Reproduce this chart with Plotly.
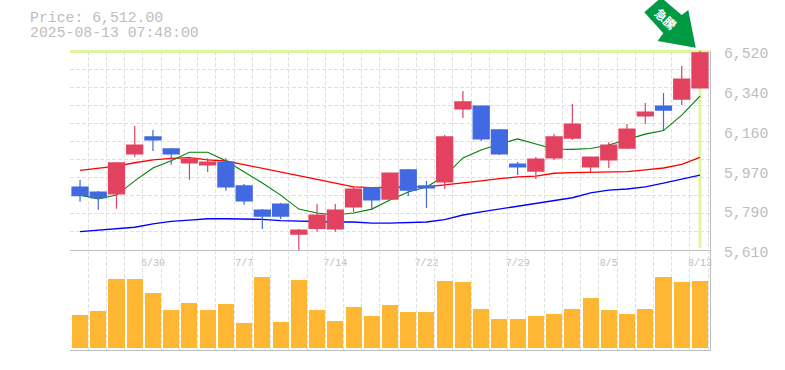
import numpy as np
import plotly.graph_objects as go

# --- data ---
date_labels = ["6/30", "7/7", "7/14", "7/22", "7/29", "8/5", "8/13"]
date_positions = [4, 9, 14, 19, 24, 29, 34]
index = list(range(35))

opens = [5898, 5875, 5867, 6049, 6127, 6072, 6008, 5999, 6012, 5903, 5793, 5820, 5683, 5709, 5706, 5807, 5895, 5843,
         5976, 5903, 5921, 6255, 6268, 6159, 6003, 5971, 6031, 6122, 5990, 6022, 6076, 6223, 6268, 6300, 6351]
highs = [5930, 5880, 6008, 6177, 6159, 6076, 6038, 6029, 6029, 5912, 5797, 5825, 5706, 5820, 5820, 5899, 5898, 5962,
         5980, 5926, 6136, 6337, 6268, 6163, 6012, 6035, 6140, 6278, 6035, 6104, 6186, 6282, 6328, 6451, 6520]
lows = [5831, 5794, 5799, 6035, 6063, 6000, 5931, 5967, 5881, 5817, 5706, 5752, 5610, 5694, 5694, 5784, 5793, 5843,
        5857, 5802, 5889, 6214, 6108, 6044, 5953, 5935, 6022, 6113, 5965, 5985, 6072, 6186, 6159, 6273, 6351]
closes = [5858, 5849, 6008, 6090, 6113, 6049, 6026, 6012, 5899, 5835, 5765, 5765, 5701, 5770, 5793, 5889, 5839, 5962,
          5884, 5894, 6127, 6287, 6118, 6049, 5990, 6026, 6127, 6186, 6035, 6090, 6163, 6241, 6250, 6392, 6512]
ma_short = [5861, 5843, 5861, 5926, 5985, 6018, 6057, 6057, 6018, 5968, 5916, 5861, 5797, 5779, 5770, 5779, 5797, 5839,
            5875, 5898, 5948, 6031, 6067, 6095, 6118, 6095, 6072, 6070, 6074, 6090, 6115, 6140, 6156, 6227, 6314]
ma_mid = [5974, 5985, 5994, 6009, 6022, 6029, 6032, 6022, 6017, 6000, 5984, 5965, 5950, 5933, 5916, 5899, 5895, 5898,
          5898, 5899, 5907, 5916, 5926, 5936, 5944, 5948, 5961, 5964, 5965, 5965, 5968, 5976, 5985, 6002, 6034]
ma_long = [5694, 5700, 5706, 5714, 5729, 5741, 5747, 5753, 5753, 5753, 5750, 5744, 5741, 5741, 5738, 5738, 5733, 5733,
           5736, 5738, 5749, 5770, 5784, 5797, 5811, 5825, 5839, 5849, 5871, 5884, 5889, 5899, 5916, 5933, 5952]
volume = [33, 37, 69, 69, 55, 38, 45, 38, 44, 25, 71, 26, 68, 38, 27, 41, 32, 43,
          36, 36, 67, 66, 39, 29, 29, 32, 34, 39, 50, 38, 34, 39, 71, 66, 67]
price_ticks = [5610, 5790, 5970, 6160, 6340, 6520]
price_tick_pos = [5610, 5792, 5974, 6156, 6338, 6520]

GREY = "#bdbdbd"
GRID = "#e0e0e0"
FONT = "Liberation Mono"
W, H = 785, 370
L, R, T, B = 70, 710, 51, 350

def px(x):
    return (x - L) / (R - L)

def py(y):
    return (B - y) / (B - T)

fig = go.Figure()

# lines live on the base axes so the candles (overlay) draw above them
for vals, col in ((ma_long, "#0000ff"), (ma_mid, "#ff0000"), (ma_short, "#008000")):
    fig.add_trace(go.Scatter(x=index, y=vals, mode="lines", xaxis="x", yaxis="y",
                             line=dict(color=col, width=1.3 if col != "#008000" else 1.1, shape="linear"),
                             hoverinfo="skip", showlegend=False))

fig.add_trace(go.Candlestick(x=index, open=opens, high=highs, low=lows, close=closes,
                             xaxis="x", yaxis="y3", whiskerwidth=0,
                             increasing=dict(line=dict(color="#e2425f", width=1.2), fillcolor="#e2425f"),
                             decreasing=dict(line=dict(color="#4169e1", width=1.2), fillcolor="#4169e1"),
                             hoverinfo="skip", showlegend=False))

fig.add_trace(go.Bar(x=index, y=volume, xaxis="x2", yaxis="y2", width=0.88,
                     marker=dict(color="#ffb733", line=dict(width=0)),
                     hoverinfo="skip", showlegend=False))

x_range = [-0.55, 34.55]
x_grid = list(np.arange(-0.55, 35, 1.0))
y_range = [5610, 6520]
y_grid = list(np.linspace(5610, 6520, 12))
split = py(250)

grid_x = dict(showgrid=True, gridcolor=GRID, gridwidth=1, griddash="4px,2px", tickmode="array", tickvals=x_grid, ticks="")

fig.update_layout(
    width=W, height=H,
    margin=dict(l=L, r=W - R, t=T, b=H - B, pad=0, autoexpand=False),
    paper_bgcolor="white", plot_bgcolor="white",
    boxgap=0.12, boxgroupgap=0, bargap=0,
    showlegend=False,
    xaxis=dict(domain=[0, 1], range=x_range, anchor="y", rangeslider=dict(visible=False), automargin=False,
               tickmode="array", tickvals=date_positions, ticktext=date_labels, showgrid=False, zeroline=False,
               ticks="outside", ticklen=3, tickcolor="rgba(0,0,0,0)", showline=True, linecolor=GREY, linewidth=1,
               tickfont=dict(family=FONT, size=10, color=GREY), minor=grid_x),
    xaxis2=dict(domain=[0, 1], range=x_range, anchor="y2", showticklabels=False, showgrid=False, zeroline=False,
                automargin=False,
                tickmode="array", tickvals=[], showline=True, linecolor=GREY, linewidth=1, minor=grid_x),
    yaxis=dict(domain=[split, 1], range=y_range, side="right", anchor="x", tickmode="array", automargin=False,
               tickvals=price_tick_pos, ticktext=[f"{v:,}" for v in price_ticks], showgrid=False, zeroline=False,
               ticks="outside", ticklen=10, tickcolor="rgba(0,0,0,0)", showline=True, linecolor=GREY, linewidth=1,
               ticklabelshift=2,
               tickfont=dict(family=FONT, size=14.8, color=GREY),
               minor=dict(showgrid=True, gridcolor=GRID, gridwidth=1, griddash="4px,2px",
                          tickmode="array", tickvals=y_grid, ticks="")),
    yaxis3=dict(domain=[split, 1], range=y_range, overlaying="y", side="right", anchor="x", visible=False,
                automargin=False),
    yaxis2=dict(domain=[0, split], range=[-2, 98], side="right", anchor="x2", showticklabels=False, showgrid=False,
                automargin=False,
                zeroline=False, tickmode="array", tickvals=[], showline=True, linecolor=GREY, linewidth=1),
)

HIGHLIGHT = "#dff5a3"
fig.add_shape(type="line", xref="x", yref="y", x0=index[-1], x1=index[-1], y0=5620, y1=6520,
              line=dict(color=HIGHLIGHT, width=3), layer="below")
fig.add_shape(type="line", xref="paper", yref="paper", x0=0, x1=1, y0=py(51.5), y1=py(51.5),
              line=dict(color=HIGHLIGHT, width=3), layer="below")

arrow = [(644.3, 12.3), (658.3, 0), (664, 0), (681.7, 15), (688.3, 10), (695.7, 47.7), (657.7, 41), (663.3, 33.3)]
path = "M " + " L ".join(f"{px(a):.5f},{py(b):.5f}" for a, b in arrow) + " Z"
fig.add_shape(type="path", xref="paper", yref="paper", path=path,
              fillcolor="#009944", line=dict(width=0), layer="above")

fig.add_annotation(xref="paper", yref="paper", x=px(666), y=py(18.5), text="<b>急騰</b>", textangle=42,
                   showarrow=False, xanchor="center", yanchor="middle",
                   font=dict(family="Noto Sans CJK JP", size=12, color="white"))
fig.add_annotation(xref="paper", yref="paper", x=px(30), y=py(18), text="Price: 6,512.00",
                   showarrow=False, xanchor="left", yanchor="middle", align="left", borderpad=0, xshift=-1,
                   font=dict(family=FONT, size=14.8, color=GREY))
fig.add_annotation(xref="paper", yref="paper", x=px(30), y=py(33), text="2025-08-13 07:48:00",
                   showarrow=False, xanchor="left", yanchor="middle", align="left", borderpad=0, xshift=-1,
                   font=dict(family=FONT, size=14.8, color=GREY))

# the page's default body margin would push the figure 8px off the reference
fig.write_html("out.html", config={"displayModeBar": False},
               post_script="document.body.style.margin='0';document.documentElement.style.overflow='hidden';")
